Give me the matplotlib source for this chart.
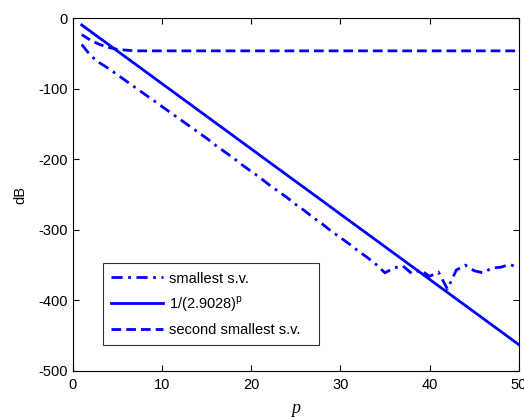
import numpy as np
import matplotlib
matplotlib.use('Agg')
import matplotlib.pyplot as plt

# p = 1..50
p = np.arange(1, 51)

# 1/(2.9028)^p in dB
bound_db = [-9.3, -18.5, -27.8, -37.0, -46.3, -55.5, -64.8, -74.0, -83.3, -92.6,
            -101.8, -111.1, -120.3, -129.6, -138.8, -148.1, -157.3, -166.6, -175.9, -185.1,
            -194.4, -203.6, -212.9, -222.1, -231.4, -240.6, -249.9, -259.1, -268.4, -277.7,
            -286.9, -296.2, -305.4, -314.7, -323.9, -333.2, -342.4, -351.7, -360.9, -370.2,
            -379.5, -388.7, -398.0, -407.2, -416.5, -425.7, -435.0, -444.2, -453.5, -462.8]

# smallest singular value (dash-dot), floor reached around p=35
smallest_db = [-37, -53, -63, -71, -80, -89, -98, -107, -116, -125,
               -134, -143, -152, -161, -170, -180, -189, -198, -208, -217,
               -226, -236, -245, -254, -264, -273, -283, -292, -302, -311,
               -320, -330, -339, -349, -361, -354, -351, -362, -357, -366,
               -360, -384, -357, -350, -358, -361, -354, -353, -349, -354]

# second smallest singular value (dashed)
second_db = [-23, -31, -37, -41, -44, -45, -46, -46, -46, -46,
             -46, -46, -46, -46, -46, -46, -46, -46, -46, -46,
             -46, -46, -46, -46, -46, -46, -46, -46, -46, -46,
             -46, -46, -46, -46, -46, -46, -46, -46, -46, -46,
             -46, -46, -46, -46, -46, -46, -46, -46, -46, -46]

plt.rcParams['font.family'] = ['Liberation Sans', 'DejaVu Sans']
plt.rcParams['font.size'] = 10
plt.rcParams['axes.unicode_minus'] = False

fig = plt.figure(figsize=(5.24, 4.19), dpi=100)
ax = fig.add_axes([0.139, 0.115, 0.851, 0.841])

blue = (0, 0, 1)
ax.plot(p, smallest_db, color=blue, lw=2, ls=(0, (4, 2, 1, 2)), label='smallest s.v.')
ax.plot(p, bound_db, color=blue, lw=2, ls='-', label=r'1/(2.9028)$^{\mathregular{p}}$')
ax.plot(p, second_db, color=blue, lw=2, ls=(0, (3.5, 1.8)), label='second smallest s.v.')

ax.set_xlim(0, 50)
ax.set_ylim(-500, 0)
ax.set_xticks(range(0, 51, 10))
ax.set_yticks(range(-500, 1, 100))
ax.tick_params(direction='in', top=True, right=True, length=4, width=0.8, labelsize=10.5)
ax.tick_params(axis='x', pad=5)
for s in ax.spines.values():
    s.set_linewidth(0.8)

ax.set_xlabel('p', family='Liberation Serif', style='italic', fontsize=13, labelpad=6)
ax.set_ylabel('dB', fontsize=10.5, labelpad=8)

leg = ax.legend(loc='lower left', bbox_to_anchor=(0.067, 0.074, 0.485, 0.233), mode='expand',
                fontsize=10.5, frameon=True, fancybox=False, edgecolor='black',
                handlelength=3.6, handletextpad=0.4, labelspacing=0.6, borderpad=0.55,
                borderaxespad=0)
leg.get_frame().set_linewidth(0.8)

fig.savefig('out.png', dpi=100)
